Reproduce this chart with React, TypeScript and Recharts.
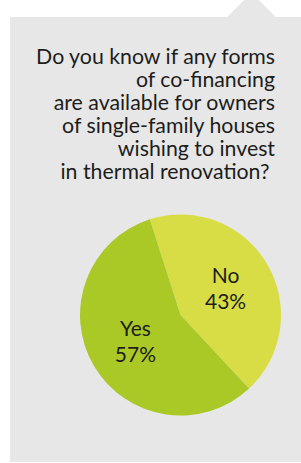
import { PieChart, Pie, Cell } from 'recharts'

const titleLines = [
  'Do you know if any forms',
  'of co-financing',
  'are available for owners',
  'of single-family houses',
  'wishing to invest',
  'in thermal renovation?\u00a0',
]

const answers = ['No', 'Yes']
const shares = [43, 57]
const colors = ['#d8dd46', '#aac927']

const data = answers.map((name, i) => ({ name, value: shares[i] }))

const RADIAN = Math.PI / 180

function renderLabel(props: any) {
  const { cx, cy, midAngle, outerRadius, index } = props
  const r = outerRadius * 0.52
  const x = cx + r * Math.cos(-midAngle * RADIAN)
  const y = cy + r * Math.sin(-midAngle * RADIAN)
  return (
    <text
      x={x}
      y={y}
      textAnchor="middle"
      fill="#1d1d1b"
      fontFamily="Lato"
      fontSize={21}
    >
      <tspan x={x} dy={-5.5}>
        {answers[index]}
      </tspan>
      <tspan x={x} dy={26}>
        {shares[index]}%
      </tspan>
    </text>
  )
}

export default function App() {
  return (
    <div
      style={{
        position: 'absolute',
        left: 0,
        top: 0,
        width: 301,
        height: 463,
        background: '#fff',
        overflow: 'hidden',
      }}
    >
      <div
        style={{
          position: 'absolute',
          left: 10,
          top: 17,
          right: 0,
          bottom: 1,
          background: '#e7e7e7',
        }}
      />
      {/* notch on top edge */}
      <div
        style={{
          position: 'absolute',
          left: 234,
          top: 0,
          width: 35,
          height: 35,
          background: '#e7e7e7',
          transform: 'rotate(45deg)',
        }}
      />
      <div
        style={{
          position: 'absolute',
          top: 44.5,
          right: 26,
          textAlign: 'right',
          fontFamily: 'Lato',
          fontSize: 21.3,
          lineHeight: '23px',
          color: '#1d1d1b',
          whiteSpace: 'pre',
        }}
      >
        {titleLines.map((l) => (
          <div key={l}>{l}</div>
        ))}
      </div>
      <div style={{ position: 'absolute', left: 0, top: 200 }}>
        <PieChart width={301} height={240}>
          <Pie
            data={data}
            dataKey="value"
            cx={175.5}
            cy={110}
            outerRadius={100.5}
            startAngle={-47}
            endAngle={313}
            stroke="none"
            labelLine={false}
            label={renderLabel}
            isAnimationActive={false}
          >
            {data.map((d, i) => (
              <Cell key={d.name} fill={colors[i]} />
            ))}
          </Pie>
        </PieChart>
      </div>
    </div>
  )
}
